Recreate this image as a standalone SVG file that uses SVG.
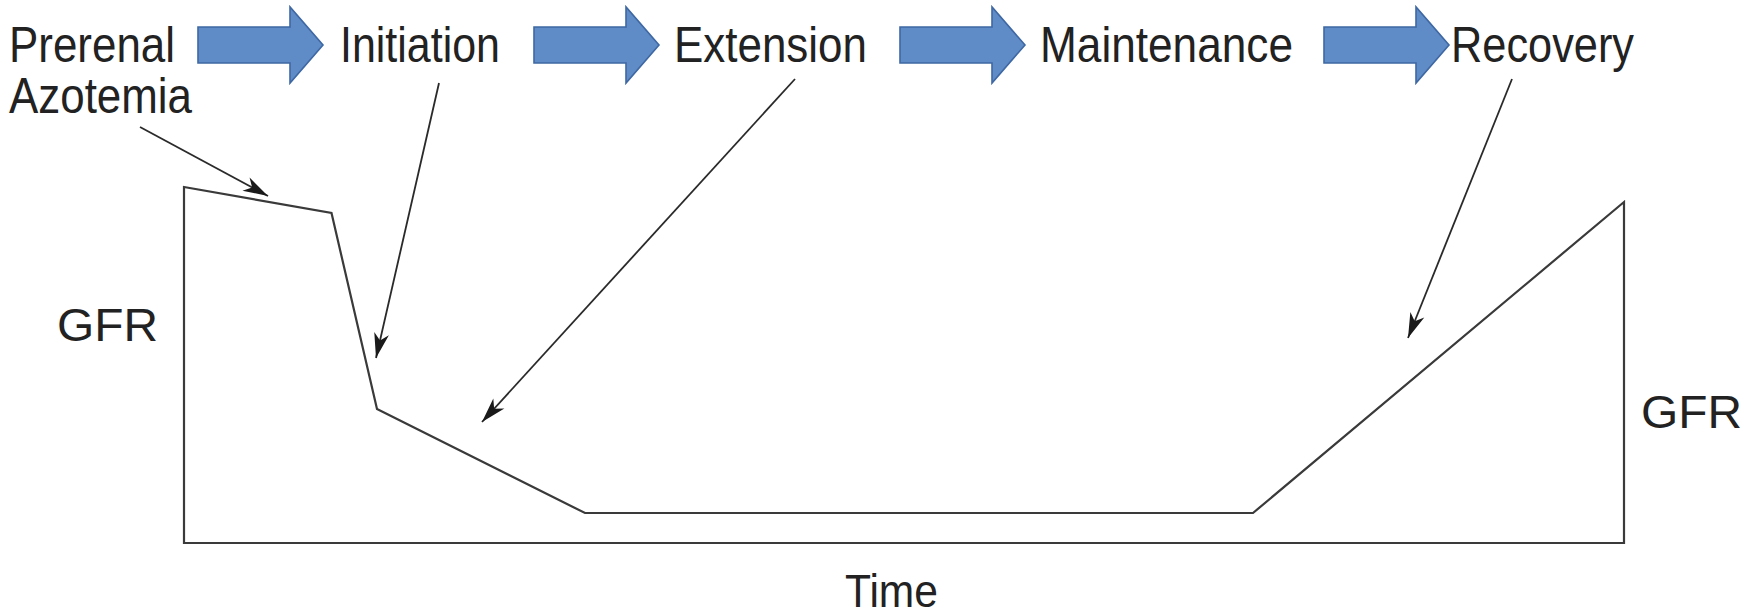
<svg xmlns="http://www.w3.org/2000/svg" xmlns:xlink="http://www.w3.org/1999/xlink" width="1763" height="614" viewBox="0 0 1763 614">
<style>
.lbl{font-family:"Liberation Sans",Arial,Helvetica,sans-serif;fill:#222;}
.top{font-size:50px;}
.ax{font-size:46px;}
.curve{fill:none;stroke:#3a3a3a;stroke-width:2.2;stroke-linejoin:miter;}
.conn{fill:none;stroke:#2a2a2a;stroke-width:1.8;}
.blue{fill:#5f8bc7;stroke:#3e68a3;stroke-width:1.6;}
</style>
<defs>
<marker id="ah" viewBox="-26 -8 28 16" refX="0" refY="0" markerWidth="28" markerHeight="16" markerUnits="userSpaceOnUse" orient="auto">
<path d="M0,0 L-25,-7.5 L-18,0 L-25,7.5 Z" fill="#1a1a1a"/>
</marker>
<path id="barrow" d="M0,27 H92 V7 L125,45 L92,83 V63 H0 Z"/>
</defs>
<rect width="1763" height="614" fill="#ffffff"/>
<g id="stage-arrows">
<use xlink:href="#barrow" class="blue" transform="translate(198,0)"/>
<use xlink:href="#barrow" class="blue" transform="translate(534,0)"/>
<use xlink:href="#barrow" class="blue" transform="translate(900,0)"/>
<use xlink:href="#barrow" class="blue" transform="translate(1324,0)"/>
</g>
<g id="prerenal"><text class="lbl top" x="9" y="62" textLength="166" lengthAdjust="spacingAndGlyphs">Prerenal</text><text class="lbl top" x="9" y="113" textLength="183" lengthAdjust="spacingAndGlyphs">Azotemia</text></g>
<g id="initiation"><text class="lbl top" x="340" y="62" textLength="160" lengthAdjust="spacingAndGlyphs">Initiation</text></g>
<g id="extension"><text class="lbl top" x="674" y="62" textLength="193" lengthAdjust="spacingAndGlyphs">Extension</text></g>
<g id="maintenance"><text class="lbl top" x="1040" y="62" textLength="253" lengthAdjust="spacingAndGlyphs">Maintenance</text></g>
<g id="recovery"><text class="lbl top" x="1451" y="62" textLength="183" lengthAdjust="spacingAndGlyphs">Recovery</text></g>
<g id="gfr-curve"><path class="curve" d="M184,187 L331.5,213 L377,409 L585,513 L1253,513 L1624,202 L1624,543 L184,543 Z"/></g>
<g id="gfr-left"><text class="lbl ax" x="57" y="341" textLength="101" lengthAdjust="spacingAndGlyphs">GFR</text></g>
<g id="gfr-right"><text class="lbl ax" x="1641" y="428" textLength="101" lengthAdjust="spacingAndGlyphs">GFR</text></g>
<g id="time"><text class="lbl ax" x="845" y="607" textLength="93" lengthAdjust="spacingAndGlyphs">Time</text></g>
<g id="connectors">
<line class="conn" x1="140" y1="127" x2="268" y2="196" marker-end="url(#ah)"/>
<line class="conn" x1="439" y1="83" x2="376" y2="358" marker-end="url(#ah)"/>
<line class="conn" x1="795" y1="79" x2="482" y2="422" marker-end="url(#ah)"/>
<line class="conn" x1="1512" y1="79" x2="1408" y2="338" marker-end="url(#ah)"/>
</g>
</svg>
